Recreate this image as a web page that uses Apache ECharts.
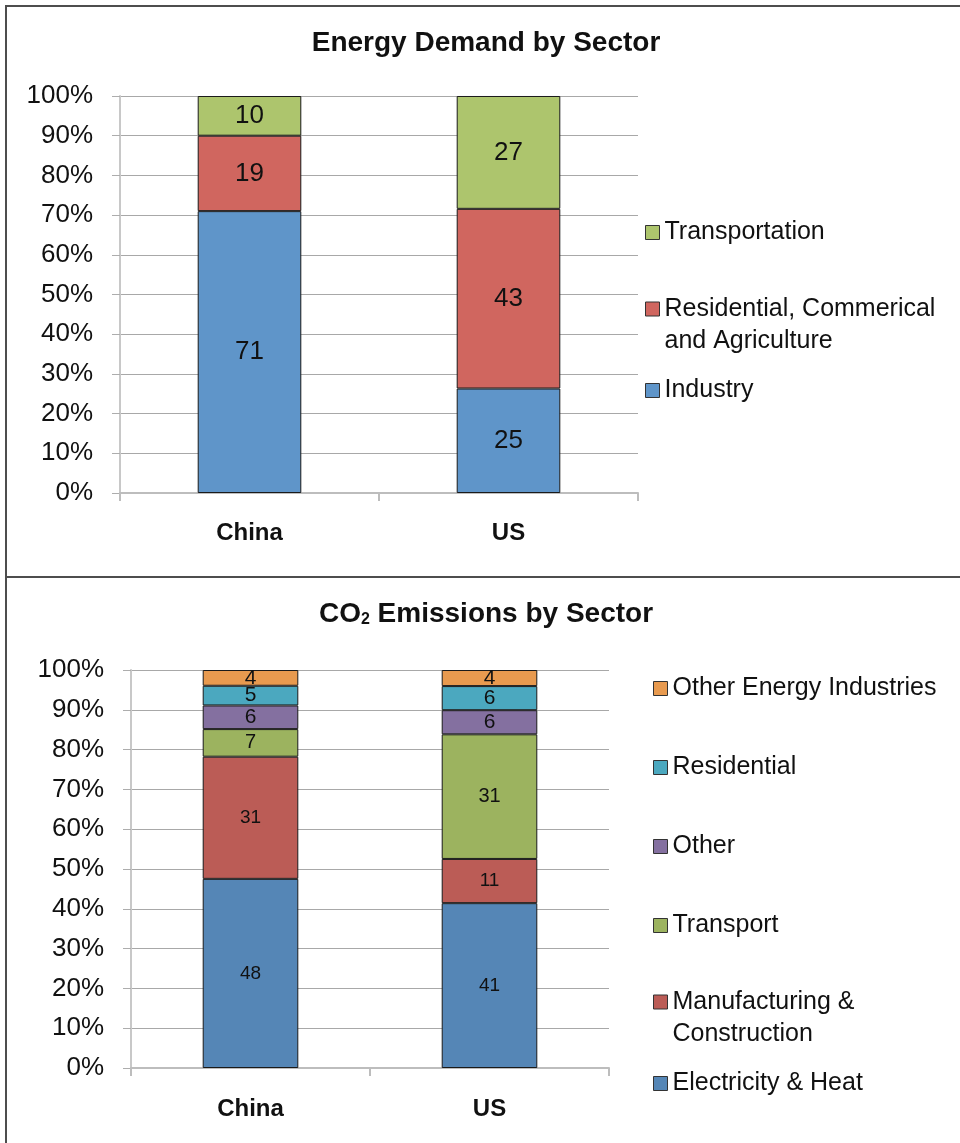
<!DOCTYPE html>
<html>
<head>
<meta charset="utf-8">
<script src="https://cdn.jsdelivr.net/npm/echarts@6/dist/echarts.min.js"></script>
<style>
html,body{margin:0;padding:0;background:#fff;}
#chart{width:960px;height:1143px;}
</style>
</head>
<body>
<div id="chart"></div>
<script>
// ---- Data ----
const categories = ['China', 'US'];

// Energy Demand by Sector (raw values; chart is 100% stacked)
const energyIndustry = [71, 25];
const energyResidential = [19, 43];
const energyTransportation = [10, 27];

// CO2 Emissions by Sector
const co2Electricity = [48, 41];
const co2Manufacturing = [31, 11];
const co2Transport = [7, 31];
const co2Other = [6, 6];
const co2Residential = [5, 6];
const co2OtherEnergy = [4, 4];

const FONT = '"Liberation Sans", Arial, sans-serif';

function measure(text, font) {
  const c = document.createElement('canvas').getContext('2d');
  c.font = font;
  return c.measureText(text).width;
}

function percentOf(seriesList) {
  const totals = categories.map((_, i) => seriesList.reduce((s, arr) => s + arr[i], 0));
  return seriesList.map(arr => arr.map((v, i) => v / totals[i] * 100));
}

const energySeriesDef = [
  { name: 'Industry', raw: energyIndustry, color: '#5F95C9', fs: 26 },
  { name: 'Residential, Commerical and Agriculture', raw: energyResidential, color: '#D0665F', fs: 26 },
  { name: 'Transportation', raw: energyTransportation, color: '#ADC56D', fs: 26 }
];
const co2SeriesDef = [
  { name: 'Electricity & Heat', raw: co2Electricity, color: '#5586B6', fs: 19 },
  { name: 'Manufacturing & Construction', raw: co2Manufacturing, color: '#BB5C56', fs: 19 },
  { name: 'Transport', raw: co2Transport, color: '#9CB35F', fs: 20 },
  { name: 'Other', raw: co2Other, color: '#8470A0', fs: 21 },
  { name: 'Residential', raw: co2Residential, color: '#4BA8BF', fs: 21 },
  { name: 'Other Energy Industries', raw: co2OtherEnergy, color: '#E89A4F', fs: 21 }
];

function buildSeries(defs, gridIdx) {
  const pcts = percentOf(defs.map(d => d.raw));
  return defs.map((d, k) => ({
    name: d.name,
    type: 'bar',
    stack: 'g' + gridIdx,
    xAxisIndex: gridIdx,
    yAxisIndex: gridIdx,
    barWidth: '40%',
    data: pcts[k],
    itemStyle: { color: d.color, borderColor: '#1a1a1a', borderWidth: 1 },
    label: {
      show: true,
      position: 'inside',
      fontFamily: FONT,
      fontSize: d.fs,
      color: '#111',
      formatter: p => String(d.raw[p.dataIndex])
    },
    emphasis: { disabled: true }
  }));
}

function yAxis(gridIdx) {
  return {
    type: 'value', gridIndex: gridIdx, min: 0, max: 100, interval: 10,
    axisLine: { show: true, lineStyle: { color: '#C8C8C8', width: 2 } },
    axisTick: { show: true, length: 8, lineStyle: { color: '#ADADAD' } },
    splitLine: { show: true, lineStyle: { color: '#A8A8A8', width: 1 } },
    axisLabel: { formatter: '{value}%', fontFamily: FONT, fontSize: 26, color: '#111', margin: 27 }
  };
}
function xAxis(gridIdx, margin) {
  return {
    type: 'category', gridIndex: gridIdx, data: categories,
    axisLine: { show: true, lineStyle: { color: '#BDBDBD', width: 2 } },
    axisTick: { show: true, length: 8, lineStyle: { color: '#BDBDBD', width: 2 } },
    axisLabel: { fontFamily: FONT, fontSize: 24, fontWeight: 'bold', color: '#111', margin: margin }
  };
}

// lines: array of text lines; the icon is aligned with the first line
function legendItem(name, left, iconCenterY, lines) {
  const multi = lines && lines.length > 1;
  const label = multi ? [' '].concat(lines).join('\n') : null;
  return {
    data: [name],
    orient: 'vertical',
    left: left,
    top: multi ? iconCenterY - 48 : iconCenterY - 10,
    padding: 0,
    itemWidth: 14,
    itemHeight: 14,
    icon: 'rect',
    selectedMode: false,
    itemStyle: { borderColor: '#333', borderWidth: 1 },
    formatter: label ? (() => label) : undefined,
    textStyle: {
      fontFamily: FONT, fontSize: 25, color: '#111',
      lineHeight: multi ? 32 : 14
    }
  };
}

const title1 = 'Energy Demand by Sector';
const w1 = measure(title1, 'bold 28px "Liberation Sans"');
const w2 = measure('CO', 'bold 28px "Liberation Sans"') + measure('2', 'bold 16px "Liberation Sans"') +
           measure(' Emissions by Sector', 'bold 28px "Liberation Sans"');

const option = {
  backgroundColor: '#fff',
  animation: false,
  title: [
    { text: title1, left: 486 - w1 / 2, top: 29, padding: 0,
      textStyle: { fontFamily: FONT, fontSize: 28, fontWeight: 'bold', color: '#111', lineHeight: 28 } },
    { text: 'CO{sub|2} Emissions by Sector', left: 486 - w2 / 2, top: 600, padding: 0,
      textStyle: { fontFamily: FONT, fontSize: 28, fontWeight: 'bold', color: '#111', lineHeight: 28,
        rich: { sub: { fontFamily: FONT, fontSize: 16, fontWeight: 'bold', color: '#111', lineHeight: 16, padding: [14, 0, 0, 0], verticalAlign: 'bottom' } } } }
  ],
  grid: [
    { left: 120, top: 96, width: 518, height: 397 },
    { left: 131, top: 670, width: 478, height: 398 }
  ],
  xAxis: [xAxis(0, 28), xAxis(1, 29)],
  yAxis: [yAxis(0), yAxis(1)],
  legend: [
    legendItem('Transportation', 645, 230),
    legendItem('Residential, Commerical and Agriculture', 645, 309, ['Residential, Commerical', 'and Agriculture']),
    legendItem('Industry', 645, 388),
    legendItem('Other Energy Industries', 653, 686),
    legendItem('Residential', 653, 765),
    legendItem('Other', 653, 844),
    legendItem('Transport', 653, 923),
    legendItem('Manufacturing & Construction', 653, 1002, ['Manufacturing &', 'Construction']),
    legendItem('Electricity & Heat', 653, 1081)
  ],
  graphic: [
    { type: 'rect', silent: true, z: 100, shape: { x: 6, y: 6, width: 1000, height: 571 },
      style: { fill: 'none', stroke: '#4d4d4d', lineWidth: 2 } },
    { type: 'rect', silent: true, z: 100, shape: { x: 6, y: 577, width: 1000, height: 600 },
      style: { fill: 'none', stroke: '#4d4d4d', lineWidth: 2 } }
  ],
  series: buildSeries(energySeriesDef, 0).concat(buildSeries(co2SeriesDef, 1))
};

const chart = echarts.init(document.getElementById('chart'), null, { renderer: 'canvas' });
chart.setOption(option);
</script>
</body>
</html>
